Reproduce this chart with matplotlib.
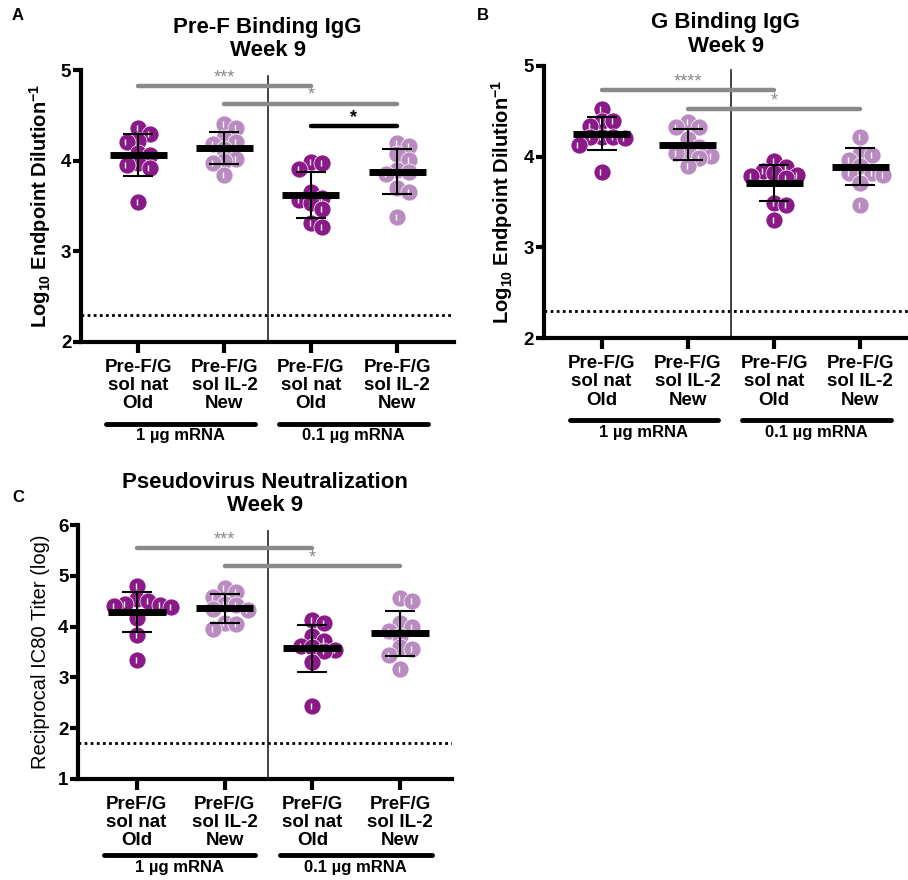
import numpy as np
import matplotlib
matplotlib.use('Agg')
import matplotlib.pyplot as plt
import matplotlib.transforms as mtransforms

plt.rcParams['font.family'] = ['Liberation Sans', 'DejaVu Sans']
plt.rcParams['font.weight'] = 'bold'
plt.rcParams['mathtext.fontset'] = 'custom'
plt.rcParams['mathtext.rm'] = 'Liberation Sans'
plt.rcParams['mathtext.bf'] = 'Liberation Sans:bold'

# ---- data ----
labels_ab = ['Pre-F/G\nsol nat\nOld', 'Pre-F/G\nsol IL-2\nNew',
             'Pre-F/G\nsol nat\nOld', 'Pre-F/G\nsol IL-2\nNew']
labels_c = ['PreF/G\nsol nat\nOld', 'PreF/G\nsol IL-2\nNew',
            'PreF/G\nsol nat\nOld', 'PreF/G\nsol IL-2\nNew']
dose_labels = ['1 µg mRNA', '0.1 µg mRNA']

a_old1 = [4.36, 4.29, 4.22, 4.21, 4.09, 4.06, 3.97, 3.95, 3.92, 3.54]
a_new1 = [4.41, 4.36, 4.25, 4.21, 4.18, 4.13, 4.02, 4.00, 3.98, 3.84]
a_old01 = [3.99, 3.97, 3.91, 3.66, 3.59, 3.57, 3.53, 3.47, 3.31, 3.27]
a_new01 = [4.20, 4.16, 4.07, 4.01, 3.90, 3.88, 3.85, 3.70, 3.66, 3.38]
a_mean = [4.06, 4.14, 3.62, 3.88]
a_sd = [0.23, 0.18, 0.25, 0.25]

b_old1 = [4.52, 4.39, 4.39, 4.34, 4.22, 4.21, 4.21, 4.20, 4.13, 3.83]
b_new1 = [4.38, 4.33, 4.32, 4.19, 4.10, 4.05, 4.04, 4.01, 3.98, 3.90]
b_old01 = [3.95, 3.89, 3.84, 3.82, 3.80, 3.79, 3.76, 3.49, 3.47, 3.30]
b_new01 = [4.21, 4.03, 4.02, 3.96, 3.90, 3.82, 3.82, 3.80, 3.71, 3.47]
b_mean = [4.25, 4.13, 3.71, 3.89]
b_sd = [0.18, 0.17, 0.20, 0.20]

c_old1 = [4.79, 4.54, 4.51, 4.44, 4.43, 4.41, 4.38, 4.16, 3.83, 3.34]
c_new1 = [4.75, 4.69, 4.59, 4.44, 4.43, 4.35, 4.33, 4.08, 4.05, 3.95]
c_old01 = [4.12, 4.08, 3.81, 3.72, 3.62, 3.59, 3.53, 3.51, 3.31, 2.44]
c_new01 = [4.56, 4.51, 4.08, 4.00, 3.91, 3.81, 3.60, 3.55, 3.45, 3.17]
c_mean = [4.29, 4.36, 3.57, 3.87]
c_sd = [0.40, 0.28, 0.47, 0.44]

# (from group, to group, height, stars, colour)
a_sig = [(0, 2, 4.82, '***', 'grey'), (1, 3, 4.63, '*', 'grey'), (2, 3, 4.38, '*', 'black')]
b_sig = [(0, 2, 4.73, '****', 'grey'), (1, 3, 4.52, '*', 'grey')]
c_sig = [(0, 2, 5.54, '***', 'grey'), (1, 3, 5.19, '*', 'grey')]

a_lod = 2.3
b_lod = 2.3
c_lod = 1.7

dark = '#8B1A89'
light = '#BA8BC1'
grey = '#8A8A8A'
colors = [dark, light, dark, light]

fig = plt.figure(figsize=(9.08, 8.8), dpi=100)


def swarm_x(ax, xc, vals, diam=10.5, step=11.5):
    # simple beeswarm in pixel space, circles may overlap a bit
    tr = ax.transData
    placed = []
    xs = []
    for v in vals:
        px, py = tr.transform((xc, v))
        for k in [0, 1, -1, 2, -2, 3, -3, 4, -4, 5, -5, 6, -6]:
            cx = px + k * step
            if all(np.hypot(cx - qx, py - qy) >= diam for qx, qy in placed):
                break
        placed.append((cx, py))
        xs.append(tr.inverted().transform((cx, py))[0])
    return xs


def panel(rect, xlim, ylim, groups, means, sds, sigs, lod, ticklabels,
          title, ylabel, yticks, sep_top, ylab_weight='bold'):
    ax = fig.add_axes(rect)
    ax.set_xlim(*xlim)
    ax.set_ylim(*ylim)
    for s in ['top', 'right']:
        ax.spines[s].set_visible(False)
    for s in ['left', 'bottom']:
        ax.spines[s].set_linewidth(3)
    ax.set_yticks(yticks)
    ax.set_xticks(range(4))
    ax.set_xticklabels(ticklabels, fontsize=13.5, fontweight='bold', linespacing=1.1)
    ax.tick_params(axis='y', width=3, length=6, labelsize=13.5, pad=1)
    ax.tick_params(axis='x', width=3, length=8, pad=4)
    ax.set_title(title, fontsize=16, fontweight='bold', pad=10, linespacing=1.15)
    ax.set_ylabel(ylabel, fontsize=14.5, fontweight=ylab_weight, labelpad=6)

    ax.axhline(lod, color='black', ls=(0, (1, 1.2)), lw=2, zorder=1)
    ax.plot([1.5, 1.5], [ylim[0], sep_top], color='#222222', lw=1.2, zorder=1)

    for i, vals in enumerate(groups):
        xs = swarm_x(ax, i, vals)
        ax.scatter(xs, vals, s=150, color=colors[i], edgecolors='white',
                   linewidths=0.5, zorder=3)
        ax.scatter(np.array(xs) - 0.012, vals, s=22, marker='|', color='white',
                   linewidths=1.0, zorder=4)
        ax.plot([i - 0.33, i + 0.33], [means[i], means[i]], color='black',
                lw=5, solid_capstyle='butt', zorder=5)
        ax.errorbar(i, means[i], yerr=sds[i], color='black', lw=1.5,
                    capsize=11, capthick=1.5, zorder=5)

    for g0, g1, h, stars, col in sigs:
        c = grey if col == 'grey' else 'black'
        ax.plot([g0, g1], [h, h], color=c, lw=3.2, solid_capstyle='round',
                zorder=2, clip_on=False)
        ax.text((g0 + g1) / 2, h, stars, color=c, ha='center', va='bottom',
                fontsize=13, fontweight='bold' if col == 'black' else 'normal')

    trans = mtransforms.blended_transform_factory(ax.transData, ax.transAxes)
    for (x0, x1), lab in zip([(-0.37, 1.35), (1.63, 3.36)], dose_labels):
        ax.plot([x0, x1], [-0.30, -0.30], color='black', lw=3.5,
                solid_capstyle='round', transform=trans, clip_on=False)
        ax.text((x0 + x1) / 2, -0.318, lab, transform=trans, ha='center',
                va='top', fontsize=12, fontweight='bold')
    return ax


ylab_ab = r'Log$_{\mathbf{10}}$ Endpoint Dilution$^{\mathbf{-1}}$'

panel([0.0892, 0.6114, 0.411, 0.309], (-0.66, 3.66), (2, 5),
      [a_old1, a_new1, a_old01, a_new01], a_mean, a_sd, a_sig, a_lod,
      labels_ab, 'Pre-F Binding IgG\nWeek 9', ylab_ab, [2, 3, 4, 5], 4.93)

panel([0.5988, 0.6156, 0.401, 0.3098], (-0.67, 3.55), (2, 5),
      [b_old1, b_new1, b_old01, b_new01], b_mean, b_sd, b_sig, b_lod,
      labels_ab, 'G Binding IgG\nWeek 9', ylab_ab, [2, 3, 4, 5], 4.95)

panel([0.0862, 0.1148, 0.4116, 0.2886], (-0.665, 3.59), (1, 6),
      [c_old1, c_new1, c_old01, c_new01], c_mean, c_sd, c_sig, c_lod,
      labels_c, 'Pseudovirus Neutralization\nWeek 9', 'Reciprocal IC80 Titer (log)',
      [1, 2, 3, 4, 5, 6], 5.88, ylab_weight='normal')

fig.text(18 / 908, 1 - 15 / 880, 'A', fontsize=12, fontweight='bold', ha='center', va='center')
fig.text(483 / 908, 1 - 15 / 880, 'B', fontsize=12, fontweight='bold', ha='center', va='center')
fig.text(18 / 908, 1 - 497 / 880, 'C', fontsize=12, fontweight='bold', ha='center', va='center')

fig.savefig('out.png', dpi=100)
